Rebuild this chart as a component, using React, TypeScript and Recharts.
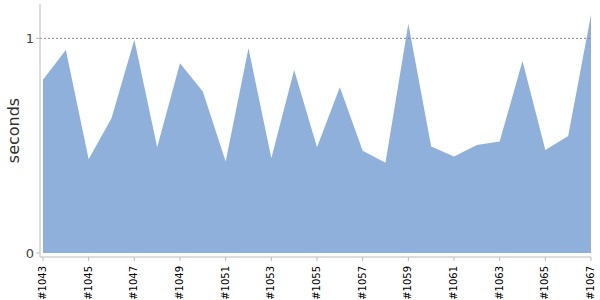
import { AreaChart, Area, XAxis, YAxis, ReferenceLine } from "recharts";

const builds = [
  "#1043", "#1044", "#1045", "#1046", "#1047", "#1048", "#1049", "#1050", "#1051",
  "#1052", "#1053", "#1054", "#1055", "#1056", "#1057", "#1058", "#1059", "#1060",
  "#1061", "#1062", "#1063", "#1064", "#1065", "#1066", "#1067",
];

const seconds = [
  0.807, 0.946, 0.437, 0.628, 0.993, 0.493, 0.884, 0.752, 0.426,
  0.954, 0.441, 0.853, 0.493, 0.772, 0.476, 0.421, 1.068, 0.496,
  0.449, 0.503, 0.519, 0.895, 0.48, 0.545, 1.11,
];

const yTicks = [0, 1];

const data = builds.map((build, i) => ({ build, seconds: seconds[i] }));

export default function App() {
  return (
    <div style={{ position: "absolute", left: 0, top: 0, fontFamily: "DejaVu Sans" }}>
      <AreaChart
        width={600}
        height={300}
        data={data}
        margin={{ top: 4, right: 9, left: 0, bottom: 0 }}
      >
        <XAxis
          dataKey="build"
          interval={1}
          height={43}
          padding={{ left: 3, right: 0 }}
          angle={-90}
          textAnchor="end"
          dx={-4}
          dy={3}
          tickSize={4}
          stroke="#bbb"
          tick={{ fill: "#000", fontSize: 10, fontFamily: "DejaVu Sans" }}
        />
        <YAxis
          width={40}
          domain={[0, 1.16]}
          ticks={yTicks}
          padding={{ top: 0, bottom: 4 }}
          tickSize={4}
          stroke="#bbb"
          tick={{ fill: "#444", fontSize: 13, fontFamily: "DejaVu Sans" }}
          label={{
            value: "seconds",
            angle: -90,
            position: "center",
            dx: -7,
            style: { fill: "#333", fontSize: 16, fontFamily: "DejaVu Sans" },
          }}
        />
        <ReferenceLine y={1} stroke="#888" strokeDasharray="2 2" />
        <Area
          type="linear"
          dataKey="seconds"
          stroke="none"
          fill="#8eb0da"
          fillOpacity={1}
          isAnimationActive={false}
        />
      </AreaChart>
    </div>
  );
}
